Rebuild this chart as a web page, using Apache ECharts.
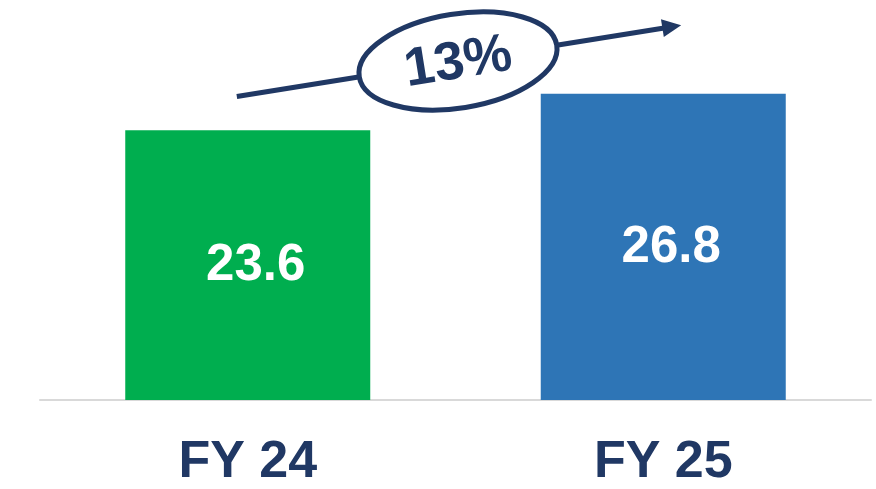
<!DOCTYPE html>
<html>
<head>
<meta charset="utf-8">
<script src="https://cdn.jsdelivr.net/npm/echarts@6/dist/echarts.min.js"></script>
<style>
html,body{margin:0;padding:0;background:#fff;}
#chart{width:876px;height:489px;}
</style>
</head>
<body>
<div id="chart"></div>
<script>
var categories = ['FY 24', 'FY 25'];
var values = [23.6, 26.8];
var barColors = ['#00AE4F', '#2E75B6'];
var growthLabel = '13%';

var navy = '#203864';
var chart = echarts.init(document.getElementById('chart'));
chart.setOption({
  animation: false,
  grid: { left: 40, right: 5, top: 0, bottom: 87, containLabel: false },
  xAxis: {
    type: 'category',
    data: categories,
    axisLine: { show: true, lineStyle: { color: '#d9d9d9', width: 2 } },
    axisTick: { show: false },
    axisLabel: {
      color: navy, fontSize: 52, fontWeight: 'bold',
      fontFamily: 'Liberation Sans, Arial, sans-serif', margin: 37
    }
  },
  yAxis: {
    type: 'value', min: 0, max: 35, show: false,
    splitLine: { show: false }
  },
  series: [{
    type: 'bar',
    barWidth: 245,
    data: values.map(function (v, i) {
      return { value: v, itemStyle: { color: barColors[i] } };
    }),
    label: {
      show: true, position: 'inside', color: '#fff',
      fontSize: 51, fontWeight: 'bold', offset: [8, 1],
      fontFamily: 'Liberation Sans, Arial, sans-serif'
    }
  }],
  graphic: [{
    type: 'group',
    x: 458, y: 61,
    rotation: 0.159,
    children: [
      { type: 'line', shape: { x1: -224, y1: 0, x2: 212, y2: 0 },
        style: { stroke: navy, lineWidth: 5 } },
      { type: 'polygon', shape: { points: [[207, -9], [226, 0], [207, 9]] },
        style: { fill: navy } },
      { type: 'ellipse', shape: { cx: 0, cy: 0, rx: 100, ry: 47 },
        style: { fill: '#fff', stroke: navy, lineWidth: 5 } },
      { type: 'text', x: 0, y: 2,
        style: { text: growthLabel, fill: navy, fontSize: 54, fontWeight: 'bold',
          fontFamily: 'Liberation Sans Narrow, Arial Narrow, sans-serif',
          align: 'center', verticalAlign: 'middle' } }
    ]
  }]
});
</script>
</body>
</html>
